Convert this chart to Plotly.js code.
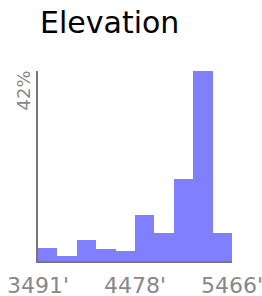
<!DOCTYPE html>
<html>
<head>
<meta charset="utf-8">
<script src="https://cdn.plot.ly/plotly-3.0.1.min.js"></script>
<style>html,body{margin:0;padding:0;background:#fff;}#chart{width:262px;height:296px;}</style>
</head>
<body>
<div id="chart"></div>
<script>
// Elevation histogram data (feet, percent of distance)
const elevMin = 3491;
const elevMax = 5466;
const binPercents = [2.9, 1.0, 4.6, 2.6, 2.3, 10.1, 6.3, 18.1, 42, 6.3];
const tickValues = [3491, 4478.5, 5466];
const tickLabels = ["3491'", "4478'", "5466'"];
const yMaxLabel = "42%";
const yMax = 42;

const binWidth = (elevMax - elevMin) / binPercents.length;
const binCenters = binPercents.map((_, i) => elevMin + binWidth * (i + 0.5));

const trace = {
  type: 'bar',
  x: binCenters,
  y: binPercents,
  width: binWidth,
  marker: {color: '#8080ff', line: {width: 0}},
  hoverinfo: 'none'
};

const layout = {
  width: 262, height: 296,
  margin: {l: 38, r: 30, t: 71, b: 35, pad: 0},
  paper_bgcolor: '#fff', plot_bgcolor: '#fff',
  font: {family: 'DejaVu Sans', color: '#888'},
  showlegend: false,
  bargap: 0,
  title: {
    text: 'Elevation',
    font: {family: 'DejaVu Sans', size: 30, color: '#000'},
    xref: 'container', x: 40/262, xanchor: 'left',
    yref: 'container', y: 1 - 22.5/296, yanchor: 'middle'
  },
  xaxis: {
    range: [elevMin - 0.01, elevMax + 0.01],
    tickmode: 'array', tickvals: tickValues, ticktext: tickLabels,
    ticks: '', showgrid: false, zeroline: false,
    showline: true, linecolor: '#777', linewidth: 2,
    ticklabeloverflow: 'allow', ticklabelstandoff: 4,
    tickfont: {family: 'DejaVu Sans', size: 22, color: '#888'},
    fixedrange: true
  },
  yaxis: {
    range: [0, yMax],
    showticklabels: false, ticks: '', showgrid: false, zeroline: false,
    showline: true, linecolor: '#777', linewidth: 2,
    fixedrange: true
  },
  annotations: [{
    text: yMaxLabel, textangle: -90,
    xref: 'paper', yref: 'paper', x: 0, y: 1,
    xanchor: 'right', yanchor: 'top', xshift: -3, yshift: 2,
    showarrow: false,
    font: {family: 'DejaVu Sans', size: 18, color: '#888'}
  }]
};

Plotly.newPlot('chart', [trace], layout, {displayModeBar: false, staticPlot: true});
</script>
</body>
</html>
